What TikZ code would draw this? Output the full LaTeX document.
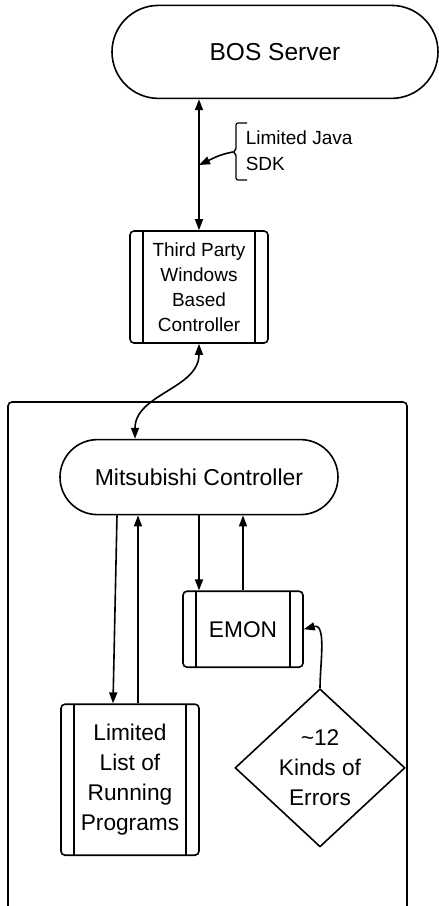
\documentclass[tikz,border=0pt]{standalone}
\usepackage{fontspec}
\setmainfont{Liberation Sans}
\usetikzlibrary{positioning,shapes.misc,shapes.geometric,arrows.meta}

\begin{document}
\begin{tikzpicture}[->,x=1pt,y=1pt,line width=1.6pt,
   >={Triangle[length=11pt,width=8pt]},
   terminal node/.style={rounded rectangle,draw,inner sep=0pt},
   sub process/.style={draw,rounded corners=4pt,align=center,inner sep=0pt,
      font=\fontsize{22.7}{30}\selectfont,
      path picture={\draw[-] ([xshift=13pt]path picture bounding box.north west) -- ([xshift=13pt]path picture bounding box.south west)
         ([xshift=-13pt]path picture bounding box.north east) -- ([xshift=-13pt]path picture bounding box.south east);}},
   decision node/.style={diamond,draw,align=center,inner sep=0pt,font=\fontsize{22.7}{30}\selectfont},
   note text/.style={align=left,inner sep=0pt,font=\fontsize{19}{26}\selectfont}]

  \useasboundingbox (0,0) rectangle (439,-906);

  \node[sub process,minimum width=138pt,minimum height=112pt,font=\fontsize{19}{25}\selectfont] (third) at (199,-287) {Third Party\\Windows\\Based\\Controller};
  \node[terminal node,minimum width=326pt,minimum height=93pt,font=\fontsize{24.5}{28}\selectfont] (bos) [above=131pt of third,xshift=76pt] {BOS Server};
  \node[terminal node,minimum width=278pt,minimum height=75pt,font=\fontsize{23}{28}\selectfont] (mitsu) [below=95pt of third] {Mitsubishi Controller};
  \node[sub process,minimum width=120pt,minimum height=76pt] (emon) [below=75pt of mitsu,xshift=44pt] {EMON};
  \node[sub process,minimum width=138pt,minimum height=151pt] (list) [below=188pt of mitsu,xshift=-69pt] {Limited\\List of\\Running\\Programs};
  \node[decision node,minimum width=170pt,minimum height=146pt] (errors) [below=20pt of emon,xshift=77pt] {\textasciitilde12\\Kinds of\\Errors};
  \node[note text,anchor=west] (sdk) at (245,-151) {Limited Java\\SDK};

  % container round the controller
  \draw[-,rounded corners=4pt] (8,-906) -- (8,-402) -- (407,-402) -- (407,-906);

  % brace of the note
  \draw[-,rounded corners=2pt,line width=1.2pt] (247,-123) -- (236,-123) -- (236,-150) -- (233,-152) -- (236,-154) -- (236,-180) -- (247,-180);
  \coordinate (brace tip) at (233,-152);
  \coordinate (sdk link) at (third.north |- 0,-165);

  \draw[<->] (third.north) -- (third.north |- bos.south);
  \draw (brace tip) to[out=190,in=25] (sdk link);
  \draw[<->] (third.south) to[out=-90,in=90] ([xshift=-64pt]mitsu.north);
  \draw ([xshift=-82pt]mitsu.south) -- ([xshift=-17pt]list.north);
  \draw ([xshift=8pt]list.north) -- ([xshift=-61pt]mitsu.south);
  \draw (mitsu.south) -- ([xshift=-44pt]emon.north);
  \draw (emon.north) -- ([xshift=44pt]mitsu.south);
  \draw (errors.north) to[out=90,in=15] (emon.east);
\end{tikzpicture}
\end{document}
